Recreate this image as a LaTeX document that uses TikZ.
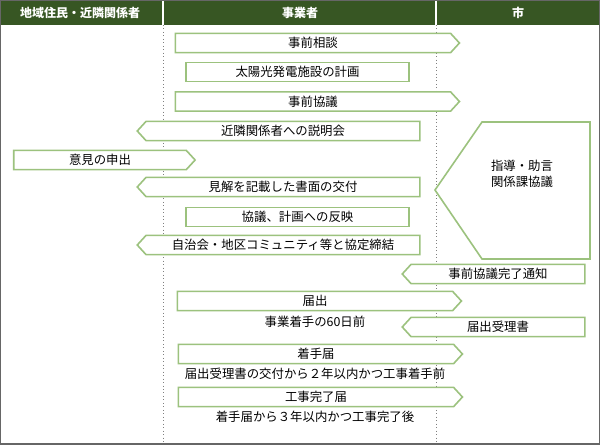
\documentclass[tikz,border=0pt]{standalone}
\usepackage{fontspec}
\setmainfont{Noto Sans CJK JP}
\usetikzlibrary{shapes.symbols}
\definecolor{hdr}{HTML}{375623}
\definecolor{gb}{HTML}{9CC27E}
\begin{document}
\begin{tikzpicture}[x=0.75pt,y=-0.75pt,font=\fontsize{9.3}{11}\selectfont,
 rarr/.style={draw=gb,line width=1.2pt,fill=white,shape=signal,signal to=east,signal pointer angle=95,inner sep=0pt,minimum height=14.5pt},
 larr/.style={draw=gb,line width=1.2pt,fill=white,shape=signal,signal to=west,signal pointer angle=95,inner sep=0pt,minimum height=14.5pt},
 rbox/.style={draw=gb,line width=1.2pt,fill=white,inner sep=0pt,minimum height=14.5pt},
 hd/.style={text=white,font=\fontsize{9}{10}\selectfont\bfseries},
 sub/.style={inner sep=0pt}]
\useasboundingbox (0,0) rectangle (600,444);
\fill[white] (0,0) rectangle (600,444);
\fill[hdr] (0,0) rectangle (600,25);
\draw[white,line width=0.8pt] (163,0) -- (163,25) (436,0) -- (436,25);
\draw[gray,dotted,line width=0.6pt] (163,25) -- (163,444) (436,25) -- (436,444);
\draw[gray!80!black,line width=1.5pt] (0,0) rectangle (600,444);
\node[hd] (h1) at (80,12.5) {地域住民・近隣関係者};
\node[hd] (h2) at (300,12.5) {事業者};
\node[hd] (h3) at (518,12.5) {市};
\node[rarr,minimum width=213pt] (a1) at (313,43) {事前相談};
\node[rbox,minimum width=167pt] (a2) at (297.5,72) {太陽光発電施設の計画};
\node[rarr,minimum width=213pt] (a3) at (313,101.5) {事前協議};
\node[larr,minimum width=212pt] (a4) at (283,131) {近隣関係者への説明会};
\node[rarr,minimum width=136pt] (a5) at (100,160) {意見の申出};
\node[larr,minimum width=212pt] (a6) at (283,187) {見解を記載した書面の交付};
\node[rbox,minimum width=167pt] (a7) at (297.5,217) {協議、計画への反映};
\node[larr,minimum width=212pt] (a8) at (283,245) {自治会・地区コミュニティ等と協定締結};
\node[larr,minimum width=137pt] (a9) at (498,274) {事前協議完了通知};
\node[rarr,minimum width=213pt] (a10) at (315,301) {届出};
\node[sub] (s10) at (315,322) {事業着手の60日前};
\node[larr,minimum width=137pt] (a11) at (498,327) {届出受理書};
\node[rarr,minimum width=213pt] (a12) at (316,354) {着手届};
\node[sub] (s12) at (315,374) {届出受理書の交付から２年以内かつ工事着手前};
\node[rarr,minimum width=213pt] (a13) at (316,397) {工事完了届};
\node[sub] (s13) at (315,417) {着手届から３年以内かつ工事完了後};
\draw[gb,line width=1.2pt,fill=white] (482,122) -- (590,122) -- (590,259) -- (482,259) -- (435,190) -- cycle;
\node[align=center,inner sep=0pt] (g) at (522,174) {指導・助言\\[1pt]関係課協議};
\end{tikzpicture}
\end{document}
